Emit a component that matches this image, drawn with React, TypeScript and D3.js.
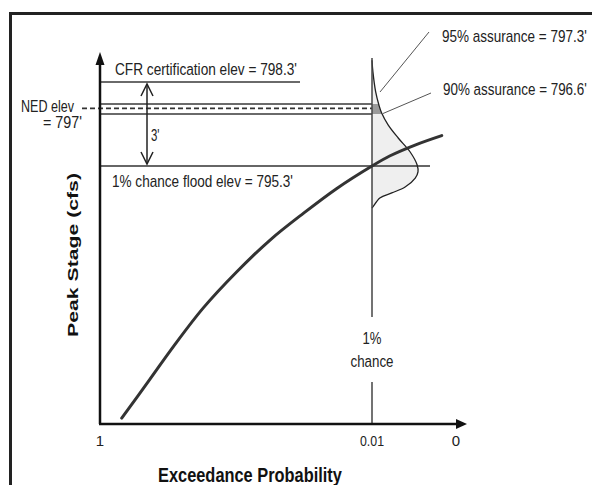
import React from "react";
import * as d3 from "d3";

// ---- Data (schematic stage-frequency diagram) ----
const probTicks = [1, 0.01, 0];
const probTickLabels = ["1", "0.01", "0"];

// stage-frequency curve: exceedance probability vs peak stage (ft)
const curveProb = [0.921, 0.818, 0.733, 0.624, 0.502, 0.381, 0.26, 0.138, 0.01, 0.0079, 0.0048, 0.0017];
const curveStage = [786.31, 787.7, 788.86, 790.24, 791.53, 792.66, 793.61, 794.5, 795.3, 795.55, 795.83, 796.06];

// uncertainty distribution of the 1% stage (relative density)
const distStage = [799.1, 798.67, 797.85, 797.23, 796.67, 796.33, 796.0, 795.65, 795.33, 795.09, 794.87, 794.55, 794.34, 794.16, 793.84, 793.8];
const distDensity = [0, 0.02, 0.08, 0.15, 0.21, 0.35, 0.57, 0.83, 0.98, 1.0, 0.94, 0.72, 0.43, 0.17, 0.02, 0];

// reference elevations
const cfrElev = 798.3;
const a95Elev = 797.3;
const nedElev = 797;
const a90Elev = 796.6;
const floodElev = 795.3;

const labelCFR = "CFR certification elev = 798.3'";
const labelFlood = "1% chance flood elev = 795.3'";
const labelNED1 = "NED elev";
const labelNED2 = "= 797'";
const label95 = "95% assurance = 797.3'";
const label90 = "90% assurance = 796.6'";

const FONT = "'Liberation Sans', Arial, sans-serif";

let measureCtx: CanvasRenderingContext2D | null = null;
function measure(text: string, size: number, weight: string) {
  if (!measureCtx) {
    const c = document.createElement("canvas");
    measureCtx = c.getContext("2d");
  }
  if (!measureCtx) return text.length * size * 0.5;
  measureCtx.font = `${weight} ${size}px ${FONT}`;
  return measureCtx.measureText(text).width;
}

// text squeezed horizontally to a target width (condensed look)
function CText(props: {
  x: number; y: number; w?: number; size: number; text: string;
  anchor?: "start" | "middle"; weight?: string; fill?: string; rotate?: number;
}) {
  const { x, y, w, size, text, anchor = "start", weight = "normal", fill = "#222", rotate = 0 } = props;
  const nat = measure(text, size, weight);
  const sx = w ? w / nat : 1;
  return (
    <text
      transform={`translate(${x},${y}) rotate(${rotate}) scale(${sx},1)`}
      textAnchor={anchor}
      fontFamily={FONT}
      fontSize={size}
      fontWeight={weight}
      fill={fill}
    >
      {text}
    </text>
  );
}

export default function App() {
  const W = 592, H = 485;
  const x0 = 100, yBottom = 424, yTop = 52, xArrow = 467;

  // schematic (not to scale) axes: piecewise linear
  const x = d3.scaleLinear().domain([1, 0.01, 0]).range([x0, 372, 456]);
  const y = d3
    .scaleLinear()
    .domain([786.1, floodElev, a90Elev, a95Elev, cfrElev, 799.4])
    .range([yBottom, 166, 114, 104, 82, yTop]);
  const dens = d3.scaleLinear().domain([0, 1]).range([0, 46]);

  const xp = x(0.01);

  const curvePts = curveProb.map((p, i) => [p, curveStage[i]] as [number, number]);
  const curveLine = d3
    .line<[number, number]>()
    .x((d) => x(d[0]))
    .y((d) => y(d[1]))
    .curve(d3.curveCatmullRom);

  const distPts = distStage.map((s, i) => [s, distDensity[i]] as [number, number]);
  const distArea = d3
    .area<[number, number]>()
    .y((d) => y(d[0]))
    .x0(xp)
    .x1((d) => xp + dens(d[1]))
    .curve(d3.curveCatmullRom);
  const distLine = d3
    .line<[number, number]>()
    .y((d) => y(d[0]))
    .x((d) => xp + dens(d[1]))
    .curve(d3.curveCatmullRom);

  const yCFR = y(cfrElev), y95 = y(a95Elev), yNED = y(nedElev), y90 = y(a90Elev), yFl = y(floodElev);

  return (
    <svg width={W} height={H} style={{ position: "absolute", left: 0, top: 0, background: "#fff" }}>
      <defs>
        <clipPath id="band">
          <rect x={xp} y={y95} width={60} height={y90 - y95} />
        </clipPath>
      </defs>
      {/* frame */}
      <line x1={10} y1={13.5} x2={W} y2={13.5} stroke="#222" strokeWidth={3} />
      <line x1={10.5} y1={12} x2={10.5} y2={H} stroke="#222" strokeWidth={3} />

      {/* distribution */}
      <path d={distArea(distPts) || ""} fill="#efefef" stroke="none" />
      <path d={distArea(distPts) || ""} fill="#9a9a9a" stroke="none" clipPath="url(#band)" />

      {/* horizontal elevation lines */}
      <line x1={x0} x2={300} y1={yCFR} y2={yCFR} stroke="#6a6a6a" strokeWidth={2} />
      <line x1={x0} x2={xp} y1={y95} y2={y95} stroke="#6a6a6a" strokeWidth={2} />
      <line x1={82} x2={xp} y1={yNED} y2={yNED} stroke="#333" strokeWidth={1.8} strokeDasharray="5,3" />
      <line x1={x0} x2={xp} y1={y90} y2={y90} stroke="#6a6a6a" strokeWidth={2} />
      <line x1={x0} x2={430} y1={yFl} y2={yFl} stroke="#333" strokeWidth={1.5} />

      {/* distribution outline */}
      <path d={distLine(distPts) || ""} fill="none" stroke="#222" strokeWidth={1.3} />

      {/* 1% chance vertical line with gap */}
      <line x1={xp} x2={xp} y1={58} y2={317} stroke="#444" strokeWidth={1.5} />
      <line x1={xp} x2={xp} y1={382} y2={yBottom} stroke="#444" strokeWidth={1.5} />

      {/* 3' dimension arrow */}
      <g stroke="#222" strokeWidth={1.5} fill="none">
        <line x1={147} x2={147} y1={yCFR + 2} y2={yFl - 2} />
        <polyline points={`141,${yCFR + 14} 147,${yCFR + 2} 153,${yCFR + 14}`} />
        <polyline points={`141,${yFl - 14} 147,${yFl - 2} 153,${yFl - 14}`} />
      </g>

      {/* leader lines */}
      <line x1={380} y1={92} x2={429} y2={32} stroke="#555" strokeWidth={1} />
      <line x1={383} y1={113.5} x2={431} y2={93} stroke="#555" strokeWidth={1} />

      {/* stage-frequency curve */}
      <path d={curveLine(curvePts) || ""} fill="none" stroke="#333" strokeWidth={3} strokeLinecap="round" />

      {/* axes */}
      <line x1={x0} y1={yBottom} x2={x0} y2={yTop + 8} stroke="#111" strokeWidth={2.5} />
      <polygon points={`${x0 - 4.5},${yTop + 13} ${x0},${yTop} ${x0 + 4.5},${yTop + 13}`} fill="#111" />
      <line x1={x0 - 1} y1={yBottom} x2={xArrow - 8} y2={yBottom} stroke="#111" strokeWidth={2.5} />
      <polygon points={`${xArrow - 11},${yBottom - 5} ${xArrow},${yBottom} ${xArrow - 11},${yBottom + 5}`} fill="#111" />

      {/* tick labels */}
      {probTicks.map((p, i) => (
        <CText key={i} x={x(p)} y={446} w={i === 1 ? 24 : undefined} size={15} anchor="middle" text={probTickLabels[i]} />
      ))}

      {/* annotation texts */}
      <CText x={115} y={75} w={182} size={17} text={labelCFR} />
      <CText x={112} y={186.5} w={181} size={17} text={labelFlood} />
      <CText x={21} y={112} w={53} size={17} text={labelNED1} />
      <CText x={43} y={128} w={39} size={17} text={labelNED2} />
      <CText x={151} y={141} w={8.5} size={16} text="3'" />
      <CText x={442} y={42} w={145} size={17} text={label95} />
      <CText x={443} y={95} w={144} size={17} text={label90} />
      <CText x={xp} y={344} w={19} size={17} anchor="middle" text="1%" />
      <CText x={xp} y={367} w={43} size={17} anchor="middle" text="chance" />

      {/* axis titles */}
      <CText x={158} y={482} w={184} size={21} weight="bold" fill="#111" text="Exceedance Probability" />
      <CText x={78} y={255} w={164} size={15.5} weight="bold" fill="#111" anchor="middle" rotate={-90} text="Peak Stage (cfs)" />
    </svg>
  );
}
